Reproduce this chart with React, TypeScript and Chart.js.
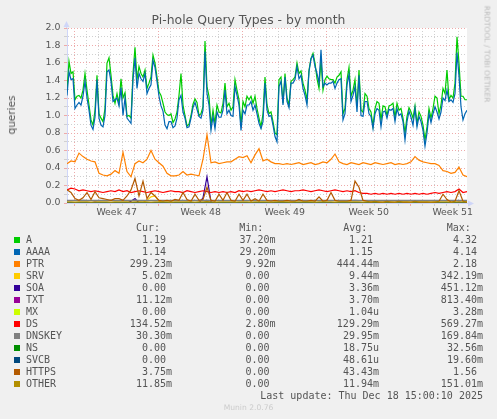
import { useEffect, useRef } from "react";
import Chart from "chart.js/auto";
import type { Plugin, Scale } from "chart.js";

// munin "by month": 400 px, two hours per pixel
const SPAN_DAYS = 800 / 24;
// first Monday 00:00 after the left edge (days)
const FIRST_WEEK = 0.64;
const WEEK_LABELS = ["Week 47", "Week 48", "Week 49", "Week 50", "Week 51"];
const Y_MAX = 2.0;
const Y_STEP = 0.1;

// A and AAAA read every ~4 hours, the rest every ~8 hours
const A = [
  1.29, 1.62, 1.48, 1.5, 1.18, 1.22, 1.23, 1.2, 1.29, 1.48,
  1.29, 1.12, 0.95, 0.89, 1.06, 1.46, 1.02, 0.97, 0.93, 1.08,
  1.6, 1.66, 1.46, 1.23, 1.14, 1.25, 1.14, 1.42, 1.2, 1.26,
  0.99, 1.0, 0.97, 1.48, 1.78, 1.41, 1.56, 1.48, 1.44, 1.52,
  1.31, 1.37, 1.44, 1.69, 1.6, 1.44, 1.27, 1.23, 1.14, 1.04,
  1.01, 1.0, 1.02, 0.92, 0.96, 1.04, 1.23, 1.48, 1.12, 1.0,
  0.88, 0.9, 1.0, 1.13, 1.19, 1.15, 1.0, 1.02, 1.1, 1.85,
  1.33, 1.22, 0.89, 1.06, 0.91, 1.12, 1.04, 1.03, 1.14, 1.37,
  1.1, 1.14, 1.06, 1.1, 1.41, 1.29, 1.18, 0.89, 1.16, 1.1,
  1.22, 1.18, 1.22, 1.14, 1.22, 1.08, 0.97, 0.87, 1.02, 1.44,
  1.12, 1.02, 1.04, 0.93, 0.8, 0.78, 1.41, 1.44, 1.14, 1.48,
  1.2, 1.12, 1.39, 1.41, 1.44, 1.6, 1.48, 1.51, 1.37, 1.29,
  1.18, 1.52, 1.65, 1.71, 1.6, 1.42, 1.31, 1.63, 1.29, 1.41,
  1.45, 1.42, 1.41, 1.41, 1.37, 1.44, 1.46, 1.5, 1.02, 1.08,
  1.41, 1.55, 1.22, 1.29, 1.41, 1.1, 1.52, 1.06, 1.04, 1.25,
  1.22, 1.08, 1.04, 0.88, 1.08, 1.16, 1.14, 0.95, 1.11, 1.1,
  1.0, 1.11, 1.12, 1.14, 0.98, 1.14, 1.06, 1.08, 0.97, 0.8,
  0.99, 1.09, 1.04, 0.97, 1.11, 0.91, 1.04, 0.99, 0.89, 0.72,
  0.87, 1.08, 0.97, 1.08, 1.22, 1.2, 1.02, 1.12, 1.31, 1.25,
  1.52, 1.18, 1.23, 1.2, 1.37, 1.9, 1.6, 1.22, 1.22, 1.18,
  1.18,
];
const AAAA = [
  1.23, 1.5, 1.41, 1.42, 1.08, 1.12, 1.15, 1.12, 1.22, 1.39,
  1.2, 1.06, 0.89, 0.84, 0.98, 1.41, 0.97, 0.89, 0.87, 1.0,
  1.5, 1.52, 1.39, 1.16, 1.18, 1.2, 1.11, 1.32, 1.0, 1.2,
  0.97, 0.94, 0.91, 1.41, 1.66, 1.31, 1.48, 1.42, 1.39, 1.48,
  1.25, 1.31, 1.35, 1.63, 1.55, 1.39, 1.22, 1.11, 1.05, 0.89,
  0.85, 0.93, 0.93, 0.86, 0.88, 0.97, 1.18, 1.23, 1.04, 0.97,
  0.86, 0.87, 0.97, 1.09, 1.15, 1.07, 0.99, 0.97, 1.06, 1.73,
  1.25, 1.12, 0.83, 0.99, 0.85, 1.04, 0.98, 0.98, 1.06, 1.29,
  1.02, 1.06, 1.0, 0.99, 1.33, 1.23, 1.12, 0.83, 1.06, 1.02,
  1.12, 1.12, 1.16, 1.06, 1.12, 1.02, 0.91, 0.85, 0.93, 1.37,
  1.06, 0.99, 1.0, 0.89, 0.76, 0.7, 1.33, 1.39, 1.12, 1.44,
  1.16, 1.09, 1.37, 1.37, 1.41, 1.56, 1.42, 1.46, 1.31, 1.23,
  1.12, 1.5, 1.65, 1.69, 1.56, 1.48, 1.37, 1.75, 1.33, 1.37,
  1.35, 1.37, 1.37, 1.39, 1.31, 1.37, 1.41, 1.42, 0.95, 1.02,
  1.35, 1.47, 1.16, 1.23, 1.33, 1.04, 1.46, 1.0, 0.99, 1.16,
  1.16, 1.02, 0.99, 0.85, 1.02, 1.08, 1.06, 0.87, 1.04, 1.05,
  0.97, 1.07, 1.06, 1.08, 0.93, 1.08, 1.0, 1.02, 0.93, 0.72,
  0.93, 1.05, 0.98, 0.89, 1.08, 0.87, 0.99, 0.93, 0.83, 0.65,
  0.8, 1.02, 0.92, 1.02, 1.1, 1.04, 0.96, 1.04, 1.2, 1.17,
  1.29, 1.16, 1.18, 1.15, 1.25, 1.72, 1.45, 1.1, 0.95, 1.02,
  1.06,
];
const PTR = [
  0.45, 0.48, 0.47, 0.57, 0.53, 0.5, 0.48, 0.47, 0.34, 0.32,
  0.31, 0.33, 0.37, 0.34, 0.58, 0.36, 0.3, 0.45, 0.48, 0.46,
  0.5, 0.6, 0.5, 0.46, 0.42, 0.34, 0.31, 0.31, 0.32, 0.36,
  0.32, 0.33, 0.32, 0.31, 0.5, 0.78, 0.46, 0.47, 0.45, 0.46,
  0.47, 0.47, 0.5, 0.53, 0.52, 0.54, 0.46, 0.55, 0.62, 0.48,
  0.5, 0.47, 0.45, 0.45, 0.44, 0.45, 0.44, 0.45, 0.46, 0.44,
  0.45, 0.46, 0.44, 0.45, 0.47, 0.46, 0.5, 0.56, 0.47, 0.45,
  0.44, 0.46, 0.45, 0.44, 0.46, 0.45, 0.44, 0.46, 0.45, 0.44,
  0.45, 0.46, 0.44, 0.45, 0.44, 0.45, 0.47, 0.53, 0.49, 0.47,
  0.46, 0.45, 0.45, 0.43, 0.37, 0.36, 0.34, 0.35, 0.41, 0.32,
  0.3,
];
const SRV = [
  0.006, 0.005, 0.008, 0.006, 0.005, 0.007, 0.006, 0.005, 0.008, 0.006,
  0.005, 0.006, 0.007, 0.005, 0.006, 0.008, 0.006, 0.005, 0.01, 0.006,
  0.03, 0.07, 0.08, 0.02, 0.006, 0.005, 0.007, 0.006, 0.005, 0.006,
  0.007, 0.005, 0.006, 0.008, 0.006, 0.005, 0.006, 0.007, 0.005, 0.006,
  0.006, 0.005, 0.007, 0.006, 0.005, 0.006, 0.008, 0.005, 0.006, 0.007,
  0.005, 0.006, 0.007, 0.005, 0.006, 0.005, 0.007, 0.006, 0.005, 0.006,
  0.006, 0.007, 0.005, 0.006, 0.008, 0.005, 0.006, 0.007, 0.005, 0.006,
  0.005, 0.006, 0.007, 0.006, 0.005, 0.006, 0.005, 0.007, 0.006, 0.005,
  0.006, 0.005, 0.006, 0.007, 0.005, 0.006, 0.005, 0.006, 0.007, 0.005,
  0.006, 0.005, 0.007, 0.006, 0.005, 0.006, 0.005, 0.006, 0.005, 0.005,
  0.005,
];
const SOA = [
  0, 0, 0, 0, 0, 0, 0, 0, 0, 0,
  0, 0, 0, 0, 0, 0, 0.02, 0.05, 0, 0,
  0, 0, 0, 0, 0.004, 0, 0, 0, 0, 0,
  0, 0, 0, 0, 0.06, 0.3, 0.01, 0, 0, 0,
  0, 0, 0, 0.004, 0, 0, 0, 0, 0, 0,
  0, 0, 0, 0, 0, 0, 0.004, 0, 0, 0,
  0, 0, 0, 0, 0, 0, 0, 0, 0, 0,
  0, 0, 0.005, 0, 0, 0, 0, 0, 0, 0,
  0, 0, 0, 0, 0, 0, 0, 0, 0, 0,
  0, 0, 0, 0, 0, 0, 0, 0, 0, 0,
  0,
];
const TXT = [
  0.003, 0.004, 0.002, 0.003, 0.004, 0.003, 0.002, 0.01, 0.003, 0.004,
  0.003, 0.002, 0.003, 0.004, 0.003, 0.003, 0.002, 0.004, 0.003, 0.003,
  0.004, 0.003, 0.002, 0.003, 0.004, 0.003, 0.003, 0.002, 0.004, 0.003,
  0.003, 0.004, 0.003, 0.002, 0.003, 0.012, 0.003, 0.004, 0.003, 0.002,
  0.003, 0.004, 0.003, 0.003, 0.002, 0.004, 0.003, 0.003, 0.004, 0.003,
  0.002, 0.003, 0.004, 0.003, 0.003, 0.002, 0.004, 0.003, 0.003, 0.004,
  0.003, 0.002, 0.003, 0.004, 0.003, 0.003, 0.002, 0.004, 0.003, 0.003,
  0.004, 0.003, 0.002, 0.003, 0.004, 0.003, 0.003, 0.002, 0.004, 0.003,
  0.003, 0.004, 0.003, 0.002, 0.003, 0.004, 0.003, 0.003, 0.002, 0.004,
  0.003, 0.003, 0.004, 0.003, 0.002, 0.003, 0.004, 0.003, 0.01, 0.003,
  0.011,
];
const MX = [
  0, 0, 0, 0, 0, 0, 0, 0, 0, 0, 0, 0, 0, 0, 0, 0, 0, 0, 0, 0,
  0, 0, 0, 0, 0, 0, 0, 0, 0, 0, 0, 0, 0, 0, 0, 0, 0, 0, 0, 0,
  0, 0, 0, 0, 0, 0, 0, 0, 0, 0, 0, 0, 0, 0, 0, 0, 0, 0, 0, 0,
  0, 0, 0, 0, 0, 0, 0, 0, 0, 0, 0, 0, 0, 0, 0, 0, 0, 0, 0, 0,
  0, 0, 0, 0, 0, 0, 0, 0, 0, 0, 0, 0, 0, 0, 0, 0, 0, 0, 0, 0,
  0,
];
const DS = [
  0.15, 0.17, 0.16, 0.14, 0.15, 0.14, 0.13, 0.14, 0.13, 0.12,
  0.13, 0.14, 0.13, 0.15, 0.13, 0.14, 0.12, 0.13, 0.14, 0.13,
  0.12, 0.13, 0.14, 0.13, 0.12, 0.13, 0.14, 0.13, 0.13, 0.12,
  0.14, 0.13, 0.12, 0.13, 0.14, 0.13, 0.12, 0.13, 0.12, 0.13,
  0.12, 0.13, 0.12, 0.14, 0.13, 0.14, 0.13, 0.14, 0.15, 0.14,
  0.13, 0.14, 0.13, 0.14, 0.15, 0.14, 0.13, 0.14, 0.14, 0.15,
  0.14, 0.13, 0.14, 0.15, 0.14, 0.13, 0.14, 0.15, 0.14, 0.13,
  0.14, 0.13, 0.14, 0.12, 0.11, 0.11, 0.1, 0.11, 0.1, 0.11,
  0.1, 0.11, 0.1, 0.11, 0.1, 0.11, 0.1, 0.11, 0.1, 0.11,
  0.1, 0.11, 0.12, 0.11, 0.12, 0.13, 0.12, 0.13, 0.16, 0.12,
  0.13,
];
const DNSKEY = [
  0.03, 0.031, 0.029, 0.03, 0.032, 0.03, 0.029, 0.031, 0.03, 0.03,
  0.031, 0.029, 0.03, 0.03, 0.031, 0.03, 0.029, 0.032, 0.03, 0.031,
  0.03, 0.029, 0.03, 0.031, 0.03, 0.03, 0.029, 0.03, 0.031, 0.03,
  0.03, 0.029, 0.031, 0.03, 0.03, 0.033, 0.03, 0.029, 0.03, 0.031,
  0.03, 0.03, 0.029, 0.031, 0.03, 0.03, 0.031, 0.03, 0.029, 0.03,
  0.03, 0.031, 0.03, 0.029, 0.03, 0.031, 0.03, 0.03, 0.029, 0.031,
  0.03, 0.03, 0.031, 0.029, 0.03, 0.03, 0.031, 0.03, 0.029, 0.03,
  0.031, 0.03, 0.032, 0.03, 0.029, 0.03, 0.03, 0.031, 0.029, 0.03,
  0.03, 0.031, 0.03, 0.029, 0.03, 0.03, 0.031, 0.03, 0.029, 0.03,
  0.031, 0.03, 0.03, 0.029, 0.031, 0.03, 0.03, 0.029, 0.031, 0.03,
  0.03,
];
const NS = [
  0, 0, 0, 0, 0, 0, 0, 0, 0, 0, 0, 0, 0, 0, 0, 0, 0, 0, 0, 0,
  0, 0, 0, 0, 0, 0, 0, 0, 0, 0, 0, 0, 0, 0, 0, 0, 0, 0, 0, 0,
  0, 0, 0, 0, 0, 0, 0, 0, 0, 0, 0, 0, 0, 0, 0, 0, 0, 0, 0, 0,
  0, 0, 0, 0, 0, 0, 0, 0, 0, 0, 0, 0, 0, 0, 0, 0, 0, 0, 0, 0,
  0, 0, 0, 0, 0, 0, 0, 0, 0, 0, 0, 0, 0, 0, 0, 0, 0, 0, 0, 0,
  0,
];
const SVCB = [
  0, 0, 0, 0, 0, 0, 0, 0, 0, 0, 0, 0, 0, 0, 0, 0, 0, 0, 0, 0,
  0, 0, 0, 0, 0, 0, 0, 0, 0, 0, 0, 0, 0, 0, 0, 0, 0, 0, 0, 0,
  0, 0, 0, 0, 0, 0, 0, 0, 0, 0, 0, 0, 0, 0, 0, 0, 0, 0, 0, 0,
  0, 0, 0, 0, 0, 0, 0, 0, 0, 0, 0, 0, 0, 0, 0, 0, 0, 0, 0, 0,
  0, 0, 0, 0, 0, 0, 0, 0, 0, 0, 0, 0, 0, 0, 0, 0, 0, 0, 0, 0,
  0,
];
const HTTPS = [
  0.15, 0.12, 0.05, 0.03, 0.06, 0.12, 0.04, 0.13, 0.06, 0.05,
  0.04, 0.03, 0.05, 0.05, 0.03, 0.08, 0.15, 0.28, 0.08, 0.25,
  0.05, 0.12, 0.08, 0.03, 0.02, 0.03, 0.02, 0.04, 0.03, 0.12,
  0.04, 0.02, 0.1, 0.03, 0.04, 0.18, 0.03, 0.02, 0.1, 0.03,
  0.12, 0.03, 0.02, 0.1, 0.03, 0.1, 0.02, 0.05, 0.02, 0.1,
  0.03, 0.02, 0.03, 0.02, 0.02, 0.03, 0.02, 0.02, 0.04, 0.02,
  0.02, 0.03, 0.02, 0.07, 0.02, 0.03, 0.12, 0.03, 0.02, 0.02,
  0.02, 0.03, 0.25, 0.18, 0.03, 0.02, 0.01, 0.02, 0.01, 0.01,
  0.02, 0.01, 0.01, 0.02, 0.01, 0.01, 0.01, 0.02, 0.01, 0.01,
  0.01, 0.01, 0.01, 0.02, 0.1, 0.04, 0.01, 0.02, 0.14, 0.02,
  0.01,
];
const OTHER = [
  0.012, 0.013, 0.011, 0.012, 0.014, 0.012, 0.011, 0.013, 0.012, 0.012,
  0.013, 0.011, 0.012, 0.012, 0.013, 0.012, 0.011, 0.014, 0.012, 0.013,
  0.012, 0.011, 0.012, 0.013, 0.012, 0.012, 0.011, 0.012, 0.013, 0.012,
  0.012, 0.013, 0.011, 0.012, 0.012, 0.015, 0.012, 0.011, 0.012, 0.013,
  0.012, 0.012, 0.011, 0.013, 0.012, 0.012, 0.011, 0.012, 0.012, 0.013,
  0.012, 0.011, 0.012, 0.012, 0.013, 0.012, 0.011, 0.012, 0.012, 0.013,
  0.012, 0.012, 0.011, 0.012, 0.013, 0.012, 0.012, 0.011, 0.012, 0.012,
  0.013, 0.012, 0.014, 0.012, 0.011, 0.012, 0.012, 0.013, 0.012, 0.011,
  0.012, 0.012, 0.011, 0.012, 0.013, 0.012, 0.011, 0.012, 0.012, 0.013,
  0.012, 0.011, 0.012, 0.012, 0.013, 0.012, 0.011, 0.012, 0.012, 0.013,
  0.012,
];

const NAMES = ["A", "AAAA", "PTR", "SRV", "SOA", "TXT", "MX", "DS", "DNSKEY", "NS", "SVCB", "HTTPS", "OTHER"];
const COLORS = [
  "#00CC00", "#0066B3", "#FF8000", "#FFCC00", "#330099", "#990099", "#CCFF00",
  "#FF0000", "#808080", "#008F00", "#00487D", "#B35A00", "#B38F00",
];
const SERIES = [A, AAAA, PTR, SRV, SOA, TXT, MX, DS, DNSKEY, NS, SVCB, HTTPS, OTHER];
const CUR = ["1.19 ", "1.14 ", "299.23m", "5.02m", "0.00 ", "11.12m", "0.00 ", "134.52m", "30.30m", "0.00 ", "0.00 ", "3.75m", "11.85m"];
const MIN = ["37.20m", "29.20m", "9.92m", "0.00 ", "0.00 ", "0.00 ", "0.00 ", "2.80m", "0.00 ", "0.00 ", "0.00 ", "0.00 ", "0.00 "];
const AVG = ["1.21 ", "1.15 ", "444.44m", "9.44m", "3.36m", "3.70m", "1.04u", "129.29m", "29.95m", "18.75u", "48.61u", "43.43m", "11.94m"];
const MAX = ["4.32 ", "4.14 ", "2.18 ", "342.19m", "451.12m", "813.40m", "3.28m", "569.27m", "169.84m", "32.56m", "19.60m", "1.56 ", "151.01m"];
const LAST_UPDATE = "Last update: Thu Dec 18 15:00:10 2025";

const W = 497;
const H = 419;
const TEXT = "#555555";
const GRID = "#d0d0d0";
const MGRID = "#eeaaaa";
const AXIS = "#CFD6F8";

const dayTicks: number[] = [];
for (let k = 0; FIRST_WEEK + k < SPAN_DAYS; k++) dayTicks.push(FIRST_WEEK + k);
const labelTicks = WEEK_LABELS.map((_, k) => FIRST_WEEK + 3.5 + 7 * k);

const near = (a: number, b: number) => Math.abs(a - b) < 1e-6;
const isLabelTick = (v: number) => labelTicks.some((t) => near(t, v));
const isWeekTick = (v: number) => {
  const w = (v - FIRST_WEEK) / 7;
  return near(w, Math.round(w));
};
const xGridColor = (v: number) => (isLabelTick(v) ? "rgba(0,0,0,0)" : isWeekTick(v) ? MGRID : GRID);
const yGridColor = (v: number) => (Math.round(v * 10) % 2 === 0 ? MGRID : GRID);

const frame: Plugin<"line"> = {
  id: "frame",
  beforeDraw(chart) {
    const { ctx, chartArea: a, width, height } = chart;
    ctx.save();
    ctx.fillStyle = "#F0F0F0";
    ctx.fillRect(0, 0, width, height);
    ctx.fillStyle = "#FFFFFF";
    ctx.fillRect(a.left, a.top, a.right - a.left, a.bottom - a.top);
    ctx.restore();
  },
  afterDraw(chart) {
    const { ctx, chartArea: a } = chart;
    const x0 = Math.round(a.left) - 0.5;
    const y0 = Math.round(a.bottom) + 0.5;
    ctx.save();
    ctx.strokeStyle = AXIS;
    ctx.fillStyle = AXIS;
    ctx.lineWidth = 1;
    ctx.beginPath();
    ctx.moveTo(x0, a.top);
    ctx.lineTo(x0, a.top - 2);
    ctx.moveTo(a.right, y0);
    ctx.lineTo(a.right + 2, y0);
    ctx.stroke();
    ctx.beginPath();
    ctx.moveTo(x0, a.top - 7);
    ctx.lineTo(x0 - 3, a.top - 1);
    ctx.lineTo(x0 + 3, a.top - 1);
    ctx.closePath();
    ctx.fill();
    ctx.beginPath();
    ctx.moveTo(a.right + 7, y0);
    ctx.lineTo(a.right + 1, y0 - 3);
    ctx.lineTo(a.right + 1, y0 + 3);
    ctx.closePath();
    ctx.fill();
    ctx.restore();
  },
};

function QueryTypesChart() {
  const canvasRef = useRef<HTMLCanvasElement | null>(null);
  const chartRef = useRef<Chart | null>(null);

  useEffect(() => {
    if (!canvasRef.current) return;
    if (chartRef.current) chartRef.current.destroy();

    const n = SERIES.length;

    chartRef.current = new Chart(canvasRef.current, {
      type: "line",
      data: {
        datasets: SERIES.map((values, i) => ({
          label: NAMES[i],
          // samples are evenly spread over the 800 hours
          data: values.map((y, k) => ({ x: (k * SPAN_DAYS) / (values.length - 1), y })),
          borderColor: COLORS[i],
          backgroundColor: COLORS[i],
          borderWidth: 1.2,
          pointRadius: 0,
          tension: 0,
          fill: false,
          order: n - i,
        })),
      },
      options: {
        responsive: false,
        animation: false,
        events: [],
        layout: { padding: { left: 37, top: 28, right: 30, bottom: 196 } },
        plugins: { legend: { display: false }, title: { display: false }, tooltip: { enabled: false } },
        scales: {
          x: {
            type: "linear",
            min: 0,
            max: SPAN_DAYS,
            afterFit: (scale: Scale) => {
              scale.height = 20;
            },
            afterBuildTicks: (scale: Scale) => {
              scale.ticks = [...dayTicks, ...labelTicks].sort((p, q) => p - q).map((value) => ({ value }));
            },
            grid: {
              color: (ctx) => xGridColor(ctx.tick.value),
              tickColor: (ctx) => xGridColor(ctx.tick.value),
              lineWidth: 1,
              tickLength: 3,
            },
            border: { display: true, color: AXIS, width: 1, dash: [1, 2] },
            ticks: {
              autoSkip: false,
              maxRotation: 0,
              padding: 1,
              color: TEXT,
              font: { family: "DejaVu Sans", size: 9.4 },
              callback: (value) => {
                const k = labelTicks.findIndex((t) => near(t, Number(value)));
                return k >= 0 ? WEEK_LABELS[k] : "";
              },
            },
          },
          y: {
            min: 0,
            max: Y_MAX,
            afterFit: (scale: Scale) => {
              scale.width = 30;
            },
            grid: {
              color: (ctx) => yGridColor(ctx.tick.value),
              tickColor: (ctx) => yGridColor(ctx.tick.value),
              lineWidth: 1,
              tickLength: 3,
            },
            border: { display: true, color: AXIS, width: 1, dash: [1, 2] },
            ticks: {
              stepSize: Y_STEP,
              autoSkip: false,
              padding: 3.5,
              color: TEXT,
              font: { family: "DejaVu Sans", size: 9.4 },
              callback: (value) => {
                const v = Number(value);
                return Math.round(v * 10) % 2 === 0 ? v.toFixed(1) : "";
              },
            },
          },
        },
      },
      plugins: [frame],
    });

    return () => chartRef.current?.destroy();
  }, []);

  return <canvas ref={canvasRef} width={W} height={H} style={{ display: "block", position: "absolute", left: 0, top: 0 }} />;
}

const mono: React.CSSProperties = {
  position: "absolute",
  fontFamily: "'DejaVu Sans Mono', monospace",
  fontSize: 10,
  lineHeight: "12px",
  color: TEXT,
  whiteSpace: "pre",
};

const ROW0 = 234;
const ROW_H = 12;
const VALUE_RIGHTS = [172, 275.5, 379, 483];
const HEADERS = ["Cur:", "Min:", "Avg:", "Max:"];
const HEADER_LEFTS = [136, 239.3, 343.3, 446.7];

export default function App() {
  const columns = [CUR, MIN, AVG, MAX];
  return (
    <div
      style={{
        position: "absolute",
        left: 0,
        top: 0,
        width: W,
        height: H,
        overflow: "hidden",
        background: "#F0F0F0",
        fontFamily: "'DejaVu Sans', sans-serif",
      }}
    >
      <QueryTypesChart />
      <div
        style={{
          position: "absolute",
          left: 0,
          width: W,
          top: 13.5,
          textAlign: "center",
          fontSize: 12.4,
          lineHeight: "12.4px",
          color: TEXT,
          whiteSpace: "nowrap",
        }}
      >
        Pi-hole Query Types - by month
      </div>
      <div
        style={{
          position: "absolute",
          left: 11,
          top: 115,
          transform: "translate(-50%, -50%) rotate(-90deg)",
          fontSize: 10.5,
          color: TEXT,
          whiteSpace: "nowrap",
        }}
      >
        queries
      </div>
      <div
        style={{
          position: "absolute",
          left: 487,
          top: 53.5,
          transform: "translate(-50%, -50%) rotate(90deg)",
          fontSize: 7.5,
          color: "#bbbbbb",
          whiteSpace: "nowrap",
        }}
      >
        RRDTOOL / TOBI OETIKER
      </div>
      {HEADERS.map((h, c) => (
        <div key={h} style={{ ...mono, left: HEADER_LEFTS[c], top: ROW0 - ROW_H }}>
          {h}
        </div>
      ))}
      {NAMES.map((name, r) => (
        <div key={name}>
          <div
            style={{
              position: "absolute",
              left: 14,
              top: ROW0 + r * ROW_H + 3,
              width: 6,
              height: 6,
              background: COLORS[r],
            }}
          />
          <div style={{ ...mono, left: 26, top: ROW0 + r * ROW_H }}>{name}</div>
          {columns.map((col, c) => (
            <div key={c} style={{ ...mono, right: W - VALUE_RIGHTS[c], top: ROW0 + r * ROW_H, textAlign: "right" }}>
              {col[r]}
            </div>
          ))}
        </div>
      ))}
      <div style={{ ...mono, right: W - 483, top: ROW0 + NAMES.length * ROW_H, textAlign: "right" }}>{LAST_UPDATE}</div>
      <div
        style={{
          position: "absolute",
          left: 0,
          width: W,
          top: 404,
          textAlign: "center",
          fontSize: 7.6,
          lineHeight: "8px",
          color: "#cccccc",
          whiteSpace: "nowrap",
        }}
      >
        Munin 2.0.76
      </div>
    </div>
  );
}
